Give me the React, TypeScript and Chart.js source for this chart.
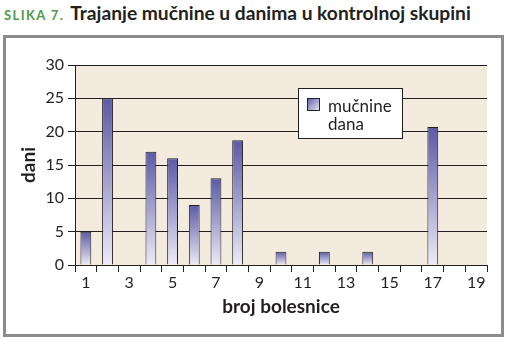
import React, { useEffect, useRef } from 'react';
import { Chart, registerables } from 'chart.js';

Chart.register(...registerables);

const categories = ['1', '2', '3', '4', '5', '6', '7', '8', '9', '10', '11', '12', '13', '14', '15', '16', '17', '18', '19'];
const values = [5, 25, 0, 17, 16, 9, 13, 18.7, 0, 2, 0, 2, 0, 2, 0, 0, 20.7, 0, 0];
const yMin = 0;
const yMax = 30;
const yStep = 5;
const seriesLabel = 'mučnine dana';
const legendLines = ['mučnine', 'dana'];
const titlePrefix = 'SLIKA 7.';
const titleText = 'Trajanje mučnine u danima u kontrolnoj skupini';
const xTitle = 'broj bolesnice';
const yTitle = 'dani';

const DARK = '#231f20';
const FONT = 'Lato, "Open Sans", sans-serif';
const BAR_TOP = '#5b5aa6';
const BAR_BOTTOM = '#ecebf7';

const plotBg = {
  id: 'plotBg',
  beforeDraw(chart: any) {
    const { ctx, chartArea: a } = chart;
    ctx.save();
    ctx.fillStyle = '#f3ecde';
    ctx.fillRect(a.left, a.top, a.right - a.left, a.bottom - a.top);
    ctx.restore();
  },
};

const boxLegend = {
  id: 'boxLegend',
  afterDraw(chart: any) {
    const { ctx } = chart;
    const x = 298, y = 88, w = 105, h = 51;
    ctx.save();
    ctx.fillStyle = '#ffffff';
    ctx.fillRect(x, y, w, h);
    ctx.strokeStyle = DARK;
    ctx.lineWidth = 1;
    ctx.strokeRect(x + 0.5, y + 0.5, w - 1, h - 1);
    const sx = 307, sy = 98, ss = 13;
    const g = ctx.createLinearGradient(sx, sy, sx + ss, sy + ss);
    g.addColorStop(0, BAR_TOP);
    g.addColorStop(1, BAR_BOTTOM);
    ctx.fillStyle = g;
    ctx.fillRect(sx, sy, ss, ss);
    ctx.strokeStyle = DARK;
    ctx.strokeRect(sx + 0.5, sy + 0.5, ss - 1, ss - 1);
    ctx.fillStyle = DARK;
    ctx.font = '17px ' + FONT;
    ctx.textBaseline = 'alphabetic';
    ctx.textAlign = 'left';
    legendLines.forEach((line, i) => {
      ctx.fillText(line, 328, 111.5 + i * 18.5);
    });
    ctx.restore();
  },
};

export default function App() {
  const ref = useRef<HTMLCanvasElement>(null);

  useEffect(() => {
    if (!ref.current) return;
    const chart = new Chart(ref.current, {
      type: 'bar',
      data: {
        labels: categories,
        datasets: [
          {
            label: seriesLabel,
            data: values,
            backgroundColor: (c: any) => {
              const chart = c.chart;
              const ys = chart.scales && chart.scales.y;
              if (!ys || c.type !== 'data') return BAR_TOP;
              const v = c.raw as number;
              const top = ys.getPixelForValue(v);
              const bottom = ys.getPixelForValue(0);
              if (!isFinite(top) || !isFinite(bottom) || top === bottom) return BAR_TOP;
              const g = chart.ctx.createLinearGradient(0, top, 0, bottom);
              g.addColorStop(0, BAR_TOP);
              g.addColorStop(1, BAR_BOTTOM);
              return g;
            },
            borderColor: DARK,
            borderWidth: 1,
            barPercentage: 0.5,
            categoryPercentage: 1,
          },
        ],
      },
      options: {
        responsive: false,
        animation: false,
        layout: { padding: { left: 0, top: 65, right: 20, bottom: 15 } },
        plugins: {
          legend: { display: false },
          tooltip: { enabled: false },
          title: { display: false },
        },
        scales: {
          x: {
            offset: true,
            grid: {
              offset: true,
              drawOnChartArea: false,
              drawTicks: true,
              tickLength: 7,
              color: DARK,
            },
            border: { color: DARK, width: 1 },
            ticks: {
              autoSkip: false,
              maxRotation: 0,
              color: DARK,
              font: { family: FONT, size: 16 },
              padding: 1,
              callback: (_v: any, i: number) => (i % 2 === 0 ? categories[i] : ''),
            },
            title: {
              display: true,
              text: xTitle,
              color: DARK,
              font: { family: FONT, size: 19, weight: 'bold' },
              padding: { top: 0, bottom: 7 },
            },
            afterFit: (s: any) => {
              s.height = 60;
            },
          },
          y: {
            min: yMin,
            max: yMax,
            ticks: {
              stepSize: yStep,
              color: DARK,
              font: { family: FONT, size: 16 },
              padding: 4,
            },
            grid: { color: DARK, tickLength: 7, drawTicks: true },
            border: { color: DARK, width: 1 },
            title: {
              display: true,
              text: yTitle,
              color: DARK,
              font: { family: FONT, size: 19, weight: 'bold' },
              padding: { top: 17.5, bottom: 0 },
            },
            afterFit: (s: any) => {
              s.width = 75;
            },
          },
        },
      },
      plugins: [plotBg, boxLegend],
    });
    return () => chart.destroy();
  }, []);

  return (
    <div style={{ position: 'fixed', left: 0, top: 0, width: 507, height: 340, background: '#fff', overflow: 'hidden' }}>
      <div
        style={{
          position: 'absolute',
          left: 3,
          top: 35,
          width: 501 - 6,
          height: 302 - 6,
          border: '3px solid #8c8c8c',
          boxSizing: 'content-box',
        }}
      />
      <div
        style={{
          position: 'absolute',
          left: 4,
          top: 0,
          height: 26,
          lineHeight: '26px',
          whiteSpace: 'nowrap',
          fontFamily: FONT,
        }}
      >
        <span style={{ color: '#4f9a4a', fontWeight: 700, fontSize: 13, letterSpacing: 1.4 }}>{titlePrefix}</span>
        <span style={{ color: DARK, fontWeight: 700, fontSize: 19.2, marginLeft: 6 }}>{titleText}</span>
      </div>
      <canvas ref={ref} width={507} height={340} style={{ position: 'absolute', left: 0, top: 0, width: 507, height: 340 }} />
    </div>
  );
}
